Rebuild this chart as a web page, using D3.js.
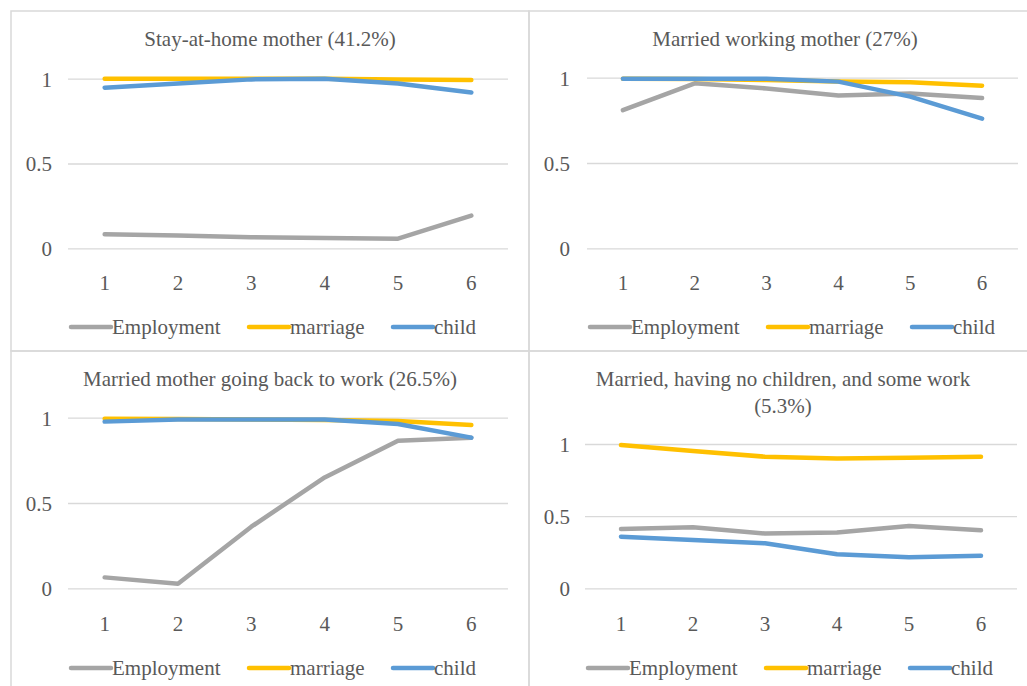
<!DOCTYPE html>
<html>
<head>
<meta charset="utf-8">
<script src="https://cdn.jsdelivr.net/npm/d3@7"></script>
<style>
  body { margin: 0; background: #fff; }
  svg { display: block; }
  text { font-family: "Liberation Serif", "Times New Roman", serif; fill: #595959; }
</style>
</head>
<body>
<svg id="chart" width="1027" height="686"></svg>
<script>
// categories on the x axis
const periods = [1, 2, 3, 4, 5, 6];
const yTicks = [0, 0.5, 1];
const seriesNames = ["Employment", "marriage", "child"];
const seriesColors = ["#A5A5A5", "#FFC000", "#5B9BD5"];

// panel titles
const titles = [
  ["Stay-at-home mother (41.2%)"],
  ["Married working mother (27%)"],
  ["Married mother going back to work (26.5%)"],
  ["Married, having no children, and some work", "(5.3%)"]
];

// values, per panel: Employment, marriage, child
const stayHome = [
  [0.083, 0.075, 0.065, 0.061, 0.057, 0.193],
  [1.0, 1.0, 1.0, 1.0, 0.995, 0.992],
  [0.947, 0.972, 0.996, 1.0, 0.972, 0.919]
];
const workingMother = [
  [0.81, 0.967, 0.937, 0.895, 0.908, 0.881],
  [0.994, 0.992, 0.986, 0.977, 0.973, 0.953],
  [0.994, 0.994, 0.994, 0.977, 0.889, 0.76]
];
const backToWork = [
  [0.064, 0.027, 0.361, 0.65, 0.865, 0.883],
  [0.994, 0.992, 0.99, 0.987, 0.98, 0.957],
  [0.977, 0.99, 0.99, 0.99, 0.963, 0.883]
];
const noChildren = [
  [0.411, 0.423, 0.379, 0.386, 0.432, 0.402],
  [0.993, 0.951, 0.912, 0.9, 0.905, 0.912],
  [0.358, 0.335, 0.312, 0.236, 0.215, 0.226]
];
const panelData = [stayHome, workingMother, backToWork, noChildren];

// layout of each panel (frame, plot area, text rows)
const panels = [
  { x0: 11, y0: 11, plotL: 68, plotR: 508, y1px: 78.7, y0px: 248.3, titleY: 46, tickY: 283, legendY: 327, titleX: 270 },
  { x0: 529, y0: 11, plotL: 587, plotR: 1018, y1px: 77.7, y0px: 248.3, titleY: 46, tickY: 283, legendY: 327, titleX: 785 },
  { x0: 11, y0: 351, plotL: 68, plotR: 508, y1px: 417.7, y0px: 588.3, titleY: 386, tickY: 624, legendY: 668, titleX: 270 },
  { x0: 529, y0: 351, plotL: 585, plotR: 1017, y1px: 444, y0px: 588.3, titleY: 386, tickY: 624, legendY: 668, titleX: 783 }
];

const svg = d3.select("#chart");

// frames
svg.append("g").attr("class", "frames")
  .selectAll("rect")
  .data(panels)
  .join("rect")
  .attr("x", d => d.x0)
  .attr("y", d => d.y0)
  .attr("width", d => (d.x0 < 500 ? 529 : 1040) - d.x0)
  .attr("height", d => (d.y0 < 300 ? 351 : 700) - d.y0)
  .attr("fill", "none")
  .attr("stroke", "#D9D9D9")
  .attr("stroke-width", 1.5);

panels.forEach((p, i) => {
  const g = svg.append("g").attr("class", "panel");

  const x = d3.scaleBand().domain(periods).range([p.plotL, p.plotR]);
  const y = d3.scaleLinear().domain([0, 1]).range([p.y0px, p.y1px]);
  const cx = d => x(d) + x.bandwidth() / 2;

  // gridlines and y labels
  const yAxis = d3.axisLeft(y)
    .tickValues(yTicks)
    .tickSize(-(p.plotR - p.plotL))
    .tickPadding(p.plotL - p.x0 - 38)
    .tickFormat(d3.format("~g"));
  const ya = g.append("g")
    .attr("transform", `translate(${p.plotL},0)`)
    .call(yAxis);
  ya.select(".domain").remove();
  ya.selectAll("line").attr("stroke", "#D9D9D9").attr("stroke-width", 1.3);
  ya.selectAll("text")
    .attr("x", -(p.plotL - p.x0 - 41))
    .attr("dy", "0.35em")
    .style("font-size", "21px")
    .style("font-family", "Liberation Serif, serif")
    .attr("fill", "#595959");

  // x labels
  const xAxis = d3.axisBottom(x).tickSize(0).tickPadding(0);
  const xa = g.append("g")
    .attr("transform", `translate(0,${p.tickY})`)
    .call(xAxis);
  xa.select(".domain").remove();
  xa.selectAll("text")
    .attr("y", 0)
    .attr("dy", "0.35em")
    .style("font-size", "21px")
    .style("font-family", "Liberation Serif, serif")
    .attr("fill", "#595959");

  // title
  g.append("text")
    .attr("x", p.titleX)
    .attr("y", p.titleY)
    .attr("text-anchor", "middle")
    .style("font-size", "21px")
    .selectAll("tspan")
    .data(titles[i])
    .join("tspan")
    .attr("x", p.titleX)
    .attr("dy", (d, k) => k === 0 ? 0 : 27)
    .text(d => d);

  // lines
  const line = d3.line()
    .x((d, k) => cx(periods[k]))
    .y(d => y(d));
  g.selectAll("path.series")
    .data(panelData[i])
    .join("path")
    .attr("class", "series")
    .attr("d", line)
    .attr("fill", "none")
    .attr("stroke", (d, k) => seriesColors[k])
    .attr("stroke-width", 4.5)
    .attr("stroke-linejoin", "round")
    .attr("stroke-linecap", "round");

  // legend
  const legendOffsets = [0, 178, 322];
  const lg = g.append("g")
    .attr("transform", `translate(${p.plotL + 3},${p.legendY})`);
  const items = lg.selectAll("g")
    .data(seriesNames)
    .join("g")
    .attr("transform", (d, k) => `translate(${legendOffsets[k]},0)`);
  items.append("line")
    .attr("x1", 0).attr("x2", 40)
    .attr("y1", 0).attr("y2", 0)
    .attr("stroke", (d, k) => seriesColors[k])
    .attr("stroke-width", 4.5)
    .attr("stroke-linecap", "round");
  items.append("text")
    .attr("x", 41)
    .attr("dy", "0.33em")
    .style("font-size", "21px")
    .text(d => d);
});
</script>
</body>
</html>
